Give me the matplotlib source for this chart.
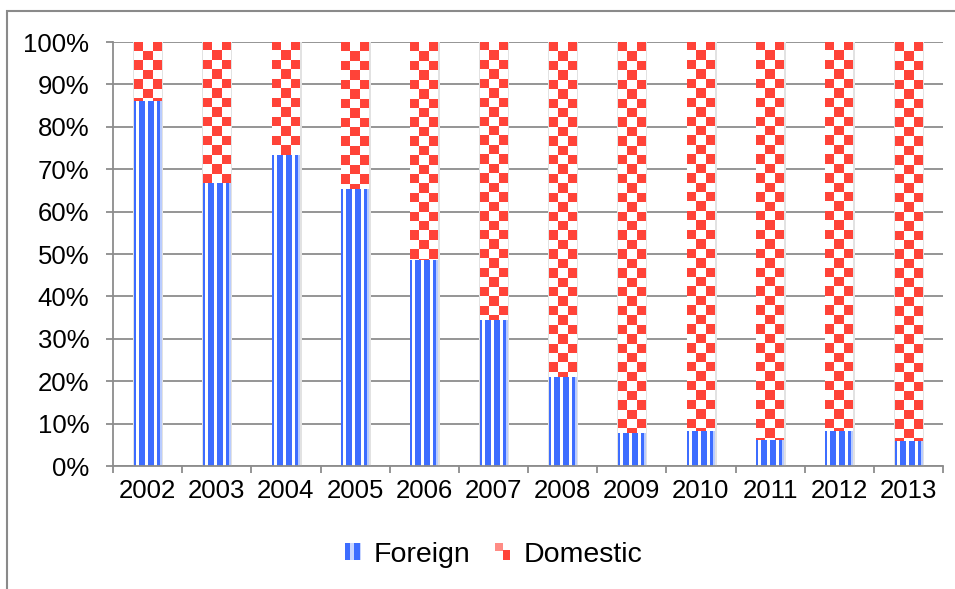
import numpy as np
import matplotlib
matplotlib.use("Agg")
import matplotlib.pyplot as plt
from matplotlib.patches import Rectangle
from matplotlib.legend_handler import HandlerBase
from matplotlib.colors import to_rgb

plt.rcParams['font.family'] = ['Liberation Sans', 'DejaVu Sans']

years = ['2002', '2003', '2004', '2005', '2006', '2007',
         '2008', '2009', '2010', '2011', '2012', '2013']
foreign = [86.0, 66.7, 73.3, 65.4, 48.6, 34.4, 21.0, 7.8, 8.2, 6.1, 8.2, 6.0]
domestic = [100 - v for v in foreign]
y_ticks = [0, 10, 20, 30, 40, 50, 60, 70, 80, 90, 100]
y_labels = [f'{t}%' for t in y_ticks]
series_names = ['Foreign', 'Domestic']

BLUE = '#3d6dff'
RED = '#ff4338'
GRID = '#8c8c8c'
FS = 18.5
LEG_FS = 20.5

fig = plt.figure(figsize=(9.55, 5.89), dpi=100)
ax = fig.add_axes([113 / 955, 1 - 466 / 589, 830 / 955, 424 / 589])

x = np.arange(len(years))
width = 0.4

# soft shadow behind each column
ax.bar(x + 0.01, [100] * len(x), width + 0.035, color='#e2e2e2', zorder=2)

fbars = ax.bar(x, foreign, width, color=BLUE, zorder=3, linewidth=0)
dbars = ax.bar(x, domestic, width, bottom=foreign, color=RED, zorder=3, linewidth=0)

blue_rgb = np.array(to_rgb(BLUE))
red_rgb = np.array(to_rgb(RED))
light_blue = np.array(to_rgb('#b9ccff'))
white = np.ones(3)

# vertical stripe fill for the foreign share
B, W, L = blue_rgb, white, light_blue
stripe = np.array([B, W, W, B, B, B, B, W, W, B, B, B, B, W, W, B, B, L])[None, :, :]
for i, b in enumerate(fbars):
    x0, y0 = b.get_x(), b.get_y()
    im = ax.imshow(stripe, extent=[x0, x0 + b.get_width(), y0, y0 + b.get_height()],
                   aspect='auto', interpolation='nearest', zorder=4)
    im.set_clip_path(b)

# checkerboard fill for the domestic share, squares counted down from the top
n_rows, n_cols = 45, 3
rr, cc = np.mgrid[0:n_rows, 0:n_cols]
checker = np.where(((rr + cc) % 2 == 0)[..., None], red_rgb, white)
for i, b in enumerate(dbars):
    x0 = b.get_x()
    im = ax.imshow(checker, extent=[x0, x0 + b.get_width(), 0, 100], origin='upper',
                   aspect='auto', interpolation='nearest', zorder=4)
    im.set_clip_path(b)

ax.set_xlim(-0.5, len(years) - 0.5)
ax.set_ylim(0, 100)
ax.set_yticks(y_ticks)
ax.set_yticklabels(y_labels, fontsize=FS)
ax.set_xticks(x)
ax.set_xticklabels(years, fontsize=FS)
ax.set_xticks(np.arange(len(years) + 1) - 0.5, minor=True)
ax.tick_params(axis='x', which='major', length=0, pad=9)
ax.tick_params(axis='x', which='minor', length=5, width=1.3, color=GRID)
ax.tick_params(axis='y', length=5, width=1.3, color=GRID, pad=12)
ax.yaxis.grid(True, color=GRID, linewidth=1.3, zorder=1)
ax.set_axisbelow(True)
for s in ['top', 'right']:
    ax.spines[s].set_visible(False)
for s in ['left', 'bottom']:
    ax.spines[s].set_color(GRID)
    ax.spines[s].set_linewidth(1.3)
ax.spines['bottom'].set_zorder(5)


class StripeHandler(HandlerBase):
    def create_artists(self, legend, orig_handle, xdescent, ydescent,
                       width, height, fontsize, trans):
        x0, y0 = -xdescent, -ydescent
        arts = [Rectangle((x0, y0), width, height, facecolor='#c9d6ff', lw=0, transform=trans)]
        for fx, fw in [(0.0, 0.3), (0.55, 0.35)]:
            arts.append(Rectangle((x0 + fx * width, y0), fw * width, height,
                                  facecolor=BLUE, lw=0, transform=trans))
        return arts


class CheckerHandler(HandlerBase):
    def create_artists(self, legend, orig_handle, xdescent, ydescent,
                       width, height, fontsize, trans):
        x0, y0 = -xdescent, -ydescent
        return [
            Rectangle((x0, y0 + 0.55 * height), 0.55 * width, 0.45 * height,
                      facecolor='#ff8c85', lw=0, transform=trans),
            Rectangle((x0 + 0.5 * width, y0), 0.5 * width, 0.6 * height,
                      facecolor=RED, lw=0, transform=trans),
        ]


h1 = Rectangle((0, 0), 1, 1)
h2 = Rectangle((0, 0), 1, 1)
fig.legend([h1, h2], series_names, loc='center', bbox_to_anchor=(0.517, 0.058),
           ncol=2, frameon=False, fontsize=LEG_FS, handlelength=0.55, handleheight=0.55,
           handletextpad=0.45, columnspacing=0.85, borderpad=0,
           handler_map={h1: StripeHandler(), h2: CheckerHandler()})

# outer frame around the chart area
fig.patches.append(Rectangle((7 / 955, -0.2), 1.2, 1.2 - 11 / 589,
                             transform=fig.transFigure, fill=False,
                             edgecolor='#8a8a8a', linewidth=1.5))

fig.savefig('out.png', dpi=100)
